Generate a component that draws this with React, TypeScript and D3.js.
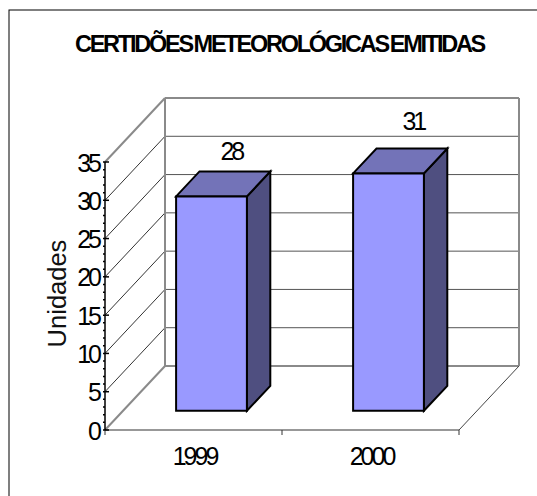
import * as d3 from 'd3';

const categories = ['1999', '2000'];
const values = [28, 31];
const yTicks = [0, 5, 10, 15, 20, 25, 30, 35];
const yMinorTicks = d3.range(0, 36);
const chartTitle = 'CERTIDÕES METEOROLÓGICAS EMITIDAS';
const yTitle = 'Unidades';

// front plane of the box and how far the back wall is shifted
const x = d3.scaleBand<string>().domain(categories).range([105, 459]).paddingInner(0.6).paddingOuter(0.3);
const y = d3.scaleLinear().domain([0, 35]).range([430, 162]);
const depthX = d3.scaleLinear().domain([0, 1]).range([0, 60]);
const depthY = d3.scaleLinear().domain([0, 1]).range([0, -64]);

const barFront = 0.3;
const barBack = 0.69;

const p = (px: number, v: number, d: number): [number, number] => [px + depthX(d), y(v) + depthY(d)];
const line = d3.line();
const poly = (pts: [number, number][]) => line(pts) + 'Z';

const FONT = '"Liberation Sans", Arial, sans-serif';
const left = x.range()[0];
const right = x.range()[1];
const middle = (left + right) / 2;

export default function App() {
  return (
    <svg width={537} height={496} style={{ position: 'fixed', left: 0, top: 0, background: '#fff' }} fontFamily={FONT}>
      <rect x={9} y={10} width={700} height={700} fill="#fff" stroke="#000" strokeWidth={1} />

      <text x={279.5} y={52} textAnchor="middle" fontSize={23.5} fontWeight="bold" letterSpacing={-2.25} wordSpacing={-2.5}>{chartTitle}</text>

      {/* back wall gridlines and side wall diagonals */}
      {yTicks.map(t => {
        const edge = t === 0 || t === 35;
        return (
          <g key={t}>
            <path d={line([p(left, t, 1), p(right, t, 1)])!} stroke={edge ? '#8a8a8a' : '#555'} strokeWidth={edge ? 2 : 1} fill="none" />
            <path d={line([p(left, t, 0), p(left, t, 1)])!} stroke={edge ? '#8a8a8a' : '#333'} strokeWidth={edge ? 2 : 1} fill="none" />
          </g>
        );
      })}
      <path d={line([p(left, 0, 1), p(left, 35, 1)])!} stroke="#8a8a8a" strokeWidth={2} fill="none" />
      <path d={line([p(right, 0, 1), p(right, 35, 1)])!} stroke="#8a8a8a" strokeWidth={2} fill="none" />

      {/* floor */}
      <path d={line([p(right, 0, 0), p(right, 0, 1)])!} stroke="#444" strokeWidth={1} fill="none" />
      <path d={line([p(left, 0, 0), p(right, 0, 0)])!} stroke="#333" strokeWidth={1.2} fill="none" />
      {[left, middle, right].map(px => (
        <line key={px} x1={px} x2={px} y1={y(0)} y2={y(0) + 5} stroke="#333" />
      ))}

      {/* bars */}
      {categories.map((c, i) => {
        const x0 = x(c)!;
        const x1 = x0 + x.bandwidth();
        const v = values[i];
        return (
          <g key={c} stroke="#000" strokeWidth={2} strokeLinejoin="miter">
            <path d={poly([p(x1, 0, barFront), p(x1, 0, barBack), p(x1, v, barBack), p(x1, v, barFront)])} fill="#4f4f80" />
            <path d={poly([p(x0, v, barFront), p(x1, v, barFront), p(x1, v, barBack), p(x0, v, barBack)])} fill="#7373b8" />
            <path d={poly([p(x0, 0, barFront), p(x1, 0, barFront), p(x1, v, barFront), p(x0, v, barFront)])} fill="#9999ff" />
            <text x={p(x1, v, barBack)[0] - (i === 0 ? 39 : 34)} y={p(x1, v, barBack)[1] - (i === 0 ? 11 : 18)} textAnchor="middle" fontSize={25} letterSpacing={-3} stroke="none" fill="#000">{v}</text>
          </g>
        );
      })}

      {/* value axis */}
      <line x1={left} x2={left} y1={y(35)} y2={y(0)} stroke="#000" strokeWidth={1.5} />
      {yMinorTicks.map(t => (
        <line key={t} x1={left - 2} x2={left} y1={y(t)} y2={y(t)} stroke="#000" strokeWidth={1.5} />
      ))}
      {yTicks.map(t => (
        <g key={t}>
          <line x1={left} x2={left + 4} y1={y(t)} y2={y(t)} stroke="#000" strokeWidth={1.5} />
          <text x={left - 6} y={y(t) + 9.5} textAnchor="end" fontSize={25} letterSpacing={-3} fill="#000">{t}</text>
        </g>
      ))}

      <text transform="translate(66,293.5) rotate(-90)" textAnchor="middle" fontSize={25.5} fill="#111">{yTitle}</text>

      {categories.map(c => (
        <text key={c} x={x(c)! + x.bandwidth() / 2 + 1} y={465} textAnchor="middle" fontSize={25} letterSpacing={-3} fill="#000">{c}</text>
      ))}
    </svg>
  );
}
